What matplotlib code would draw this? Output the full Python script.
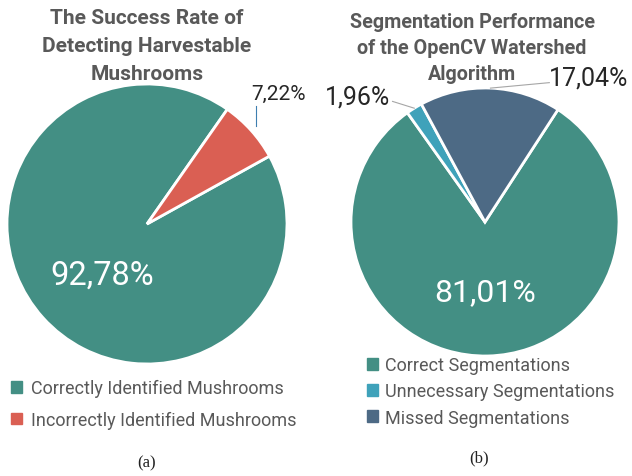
import numpy as np
import matplotlib
matplotlib.use('Agg')
import matplotlib.pyplot as plt
from matplotlib.patches import Patch

# dados
labels_a = ['Correctly Identified Mushrooms', 'Incorrectly Identified Mushrooms']
values_a = [92.78, 7.22]
colors_a = ['#438F84', '#DA5F53']

labels_b = ['Correct Segmentations', 'Unnecessary Segmentations', 'Missed Segmentations']
values_b = [81.01, 1.96, 17.04]
colors_b = ['#438F84', '#3FA2BA', '#4D6A85']

title_a = ['The Success Rate of', 'Detecting Harvestable', 'Mushrooms']
title_b = ['Segmentation Performance', 'of the OpenCV Watershed', 'Algorithm']

plt.rcParams['font.family'] = ['Roboto', 'DejaVu Sans']
W, H = 632, 477
fig = plt.figure(figsize=(W / 100, H / 100), dpi=100)


def px_axes(cx, cy, r):
    return fig.add_axes([(cx - r) / W, (H - cy - r) / H, 2 * r / W, 2 * r / H])


def fmt(p):
    return f'{p:.2f}'.replace('.', ',') + '%'


def mid_angle(w):
    return np.deg2rad((w.theta1 + w.theta2) / 2)


# (a)
ax1 = px_axes(147, 225, 140)
w1, t1 = ax1.pie(values_a, colors=colors_a, startangle=29, counterclock=False,
                 wedgeprops=dict(edgecolor='white', linewidth=2))
ax1.text(-0.32, -0.36, fmt(values_a[0]), ha='center', va='center', color='white', fontsize=23.5)
a = mid_angle(w1[1])
x0, y0 = 1.05 * np.cos(a), 1.05 * np.sin(a)
ax1.plot([x0, x0], [y0, y0 + 0.14], color='#3E7FB0', lw=0.8, clip_on=False)
ax1.text(0.94, 0.93, fmt(values_a[1]), ha='center', va='center', color='#262626', fontsize=15)
ax1.set_xlim(-1, 1); ax1.set_ylim(-1, 1)

# (b)
ax2 = px_axes(485, 223, 134)
w2, t2 = ax2.pie(values_b, colors=colors_b, startangle=57, counterclock=False,
                 wedgeprops=dict(edgecolor='white', linewidth=2))
ax2.text(0.0, -0.52, fmt(values_b[0]), ha='center', va='center', color='white', fontsize=23)
a = mid_angle(w2[1])
ax2.plot([np.cos(a), -0.69], [np.sin(a), 0.90], color='#A6A6A6', lw=0.8, clip_on=False)
ax2.text(-0.95, 0.94, fmt(values_b[1]), ha='center', va='center', color='#262626', fontsize=18)
a = mid_angle(w2[2])
ax2.plot([np.cos(a), 0.48], [np.sin(a), 1.04], color='#A6A6A6', lw=0.8, clip_on=False)
ax2.text(0.77, 1.08, fmt(values_b[2]), ha='center', va='center', color='#262626', fontsize=18)
ax2.set_xlim(-1, 1); ax2.set_ylim(-1, 1)

# títulos, uma linha de cada vez
for i, linha in enumerate(title_a):
    fig.text(147 / W, 1 - (18 + 28 * i) / H, linha, ha='center', va='center', fontsize=15,
             fontweight='bold', color='#595959')
for i, linha in enumerate(title_b):
    fig.text(472 / W, 1 - (22 + 26.5 * i) / H, linha, ha='center', va='center', fontsize=14.2,
             fontweight='bold', color='#595959')

# legendas
h_a = [Patch(color=c) for c in colors_a]
fig.legend(h_a, labels_a, loc='upper left', bbox_to_anchor=(-5 / W, 1 - 364 / H), frameon=False,
           fontsize=13, handlelength=0.6, handleheight=0.6, handletextpad=0.5, labelspacing=0.75,
           labelcolor='#595959')
h_b = [Patch(color=c) for c in colors_b]
fig.legend(h_b, labels_b, loc='upper left', bbox_to_anchor=(351 / W, 1 - 341 / H), frameon=False,
           fontsize=13, handlelength=0.6, handleheight=0.6, handletextpad=0.4, labelspacing=0.45,
           labelcolor='#595959')

fig.text(147 / W, 1 - 463 / H, '(a)', ha='center', va='center', fontsize=12,
         family='Liberation Serif', color='#222222')
fig.text(479 / W, 1 - 458 / H, '(b)', ha='center', va='center', fontsize=12,
         family='Liberation Serif', color='#222222')

fig.savefig('out.png', dpi=100)
